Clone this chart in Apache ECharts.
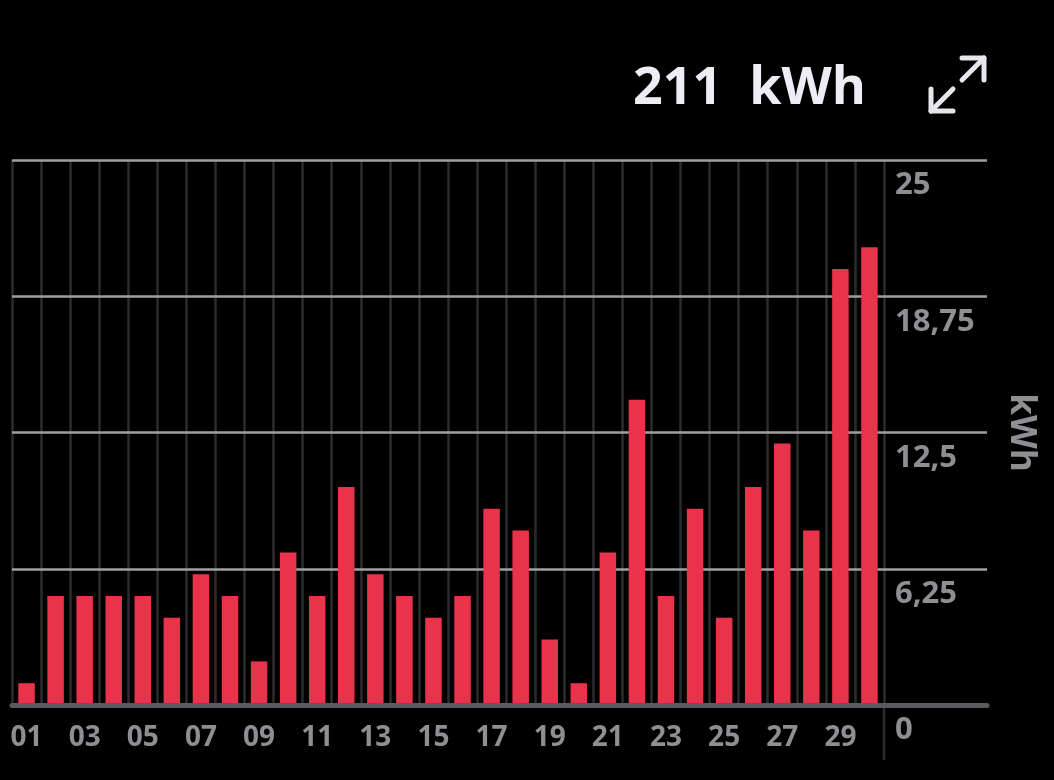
<!DOCTYPE html>
<html>
<head>
<meta charset="utf-8">
<script src="https://cdn.jsdelivr.net/npm/echarts@6/dist/echarts.min.js"></script>
<style>
html,body{margin:0;padding:0;background:#000;}
#c{width:1054px;height:780px;}
</style>
</head>
<body>
<div id="c"></div>
<script>
const days = ['01','02','03','04','05','06','07','08','09','10','11','12','13','14','15','16','17','18','19','20','21','22','23','24','25','26','27','28','29','30'];
const energy = [1,5,5,5,5,4,6,5,2,7,5,10,6,5,4,5,9,8,3,1,7,14,5,9,4,10,12,8,20,21];
const yTicks = [0, 6.25, 12.5, 18.75, 25];
const totalLabel = '211  kWh';
const unit = 'kWh';

const gray = '#8e8e93';
const chart = echarts.init(document.getElementById('c'), null, {renderer:'canvas'});
const option = {
  backgroundColor: '#000',
  animation: false,
  title: {
    text: totalLabel,
    right: 183,
    top: 58,
    textStyle: {color:'#ededf5', fontFamily:'Open Sans', fontWeight:700, fontSize:52}
  },
  grid: [
    {left:12, right:170, top:160, bottom:75},
    {left:12, right:67, top:160, bottom:75}
  ],
  xAxis: [
    {
      type:'category', gridIndex:0, data:days, boundaryGap:true, z:0,
      axisLine:{show:false}, axisTick:{show:false},
      axisLabel:{interval:1, color:gray, fontFamily:'Open Sans', fontWeight:700, fontSize:28, margin:19},
      splitLine:{show:true, interval:0, lineStyle:{color:'#2c2c2f', width:2.5}}
    },
    {
      type:'value', gridIndex:1, min:0, max:1, z:5,
      axisLine:{show:true, lineStyle:{color:'#5a5a5e', width:5}},
      axisTick:{show:false}, axisLabel:{show:false}, splitLine:{show:false}
    }
  ],
  yAxis: [
    {
      type:'value', gridIndex:0, min:yTicks[0], max:yTicks[yTicks.length-1], interval:6.25, position:'right',
      axisLine:{show:false}, axisTick:{show:false}, splitLine:{show:false},
      axisLabel:{
        color:gray, fontFamily:'Open Sans', fontWeight:700, fontSize:31, margin:11,
        align:'left', verticalAlign:'top', padding:[10,0,0,0],
        formatter: v => String(v).replace('.', ',')
      }
    },
    {
      type:'value', gridIndex:1, min:yTicks[0], max:yTicks[yTicks.length-1], interval:6.25, position:'right', z:1,
      axisLine:{show:false}, axisTick:{show:false}, axisLabel:{show:false},
      splitLine:{show:true, lineStyle:{color:'#a0a0a4', width:2.5}},
      name: unit, nameLocation:'middle', nameRotate:-90, nameGap:16,
      nameTextStyle:{color:gray, fontFamily:'Open Sans', fontWeight:700, fontSize:35}
    }
  ],
  series: [
    {
      type:'bar', xAxisIndex:0, yAxisIndex:0, data:energy, barWidth:16.5, z:2,
      itemStyle:{color:'#e8334a'}
    }
  ]
};
chart.setOption(option);

// extension of the last category boundary below the axis, and the expand icon
const pBottom = chart.convertToPixel({xAxisIndex:0, yAxisIndex:0}, [days.length - 1, 0]);
const half = (chart.convertToPixel({xAxisIndex:0}, days[1]) - chart.convertToPixel({xAxisIndex:0}, days[0])) / 2;
const xEdge = Math.round(pBottom[0] + half);
const iconStyle = {stroke:'#e6e6ee', lineWidth:5, lineCap:'round', lineJoin:'round', fill:null};
chart.setOption({
  graphic: [
    {type:'line', shape:{x1:xEdge, y1:pBottom[1], x2:xEdge, y2:pBottom[1] + 55}, style:{stroke:'#2c2c2f', lineWidth:2.5}, z:0},
    {type:'polyline', shape:{points:[[962,58],[984,58],[984,80]]}, style:iconStyle},
    {type:'line', shape:{x1:984, y1:58, x2:962, y2:80}, style:iconStyle},
    {type:'polyline', shape:{points:[[931,89],[931,111],[953,111]]}, style:iconStyle},
    {type:'line', shape:{x1:931, y1:111, x2:953, y2:89}, style:iconStyle}
  ]
});
</script>
</body>
</html>
